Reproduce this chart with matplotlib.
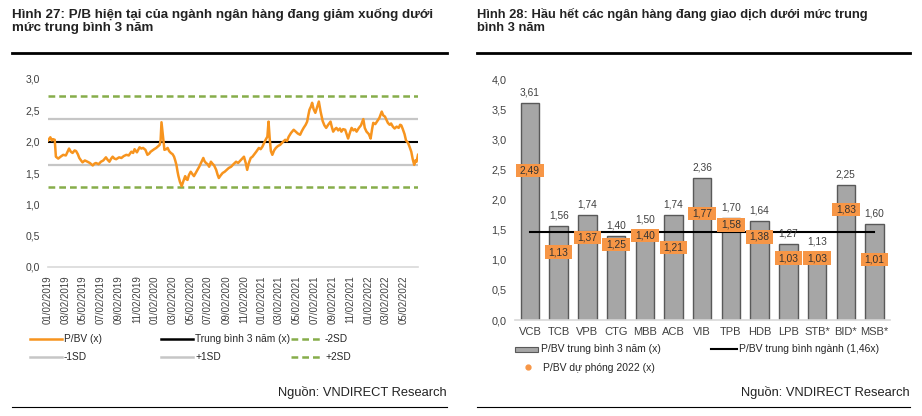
import matplotlib
matplotlib.use("Agg")
import matplotlib.pyplot as plt
from matplotlib.lines import Line2D
from matplotlib.patches import Rectangle
import pandas as pd

plt.rcParams['font.family'] = ['Liberation Sans', 'DejaVu Sans']

# ---- Hình 27: P/B ngành ngân hàng ----
pb_dates = [
    "2019-01-02", "2019-01-07", "2019-01-10", "2019-01-15", "2019-01-19", "2019-01-25", "2019-01-29",
    "2019-02-06", "2019-02-14", "2019-02-23", "2019-03-04", "2019-03-10", "2019-03-15", "2019-03-21",
    "2019-03-27", "2019-04-03", "2019-04-08", "2019-04-14", "2019-04-19", "2019-04-25", "2019-04-30",
    "2019-05-08", "2019-05-17", "2019-05-25", "2019-06-04", "2019-06-10", "2019-06-15", "2019-06-24",
    "2019-07-02", "2019-07-10", "2019-07-19", "2019-07-25", "2019-07-31", "2019-08-06", "2019-08-11",
    "2019-08-17", "2019-08-23", "2019-09-02", "2019-09-10", "2019-09-18", "2019-09-27", "2019-10-05",
    "2019-10-14", "2019-10-20", "2019-10-25", "2019-11-02", "2019-11-11", "2019-11-17", "2019-11-23",
    "2019-12-01", "2019-12-08", "2019-12-14", "2019-12-19", "2019-12-25", "2019-12-31", "2020-01-07",
    "2020-01-12", "2020-01-19", "2020-01-22", "2020-01-25", "2020-01-28", "2020-01-31", "2020-02-04",
    "2020-02-10", "2020-02-15", "2020-02-20", "2020-02-26", "2020-03-03", "2020-03-08", "2020-03-12",
    "2020-03-16", "2020-03-20", "2020-03-23", "2020-03-28", "2020-04-03", "2020-04-08", "2020-04-15",
    "2020-04-19", "2020-04-23", "2020-04-28", "2020-05-04", "2020-05-10", "2020-05-15", "2020-05-21",
    "2020-05-27", "2020-06-02", "2020-06-08", "2020-06-12", "2020-06-16", "2020-06-20", "2020-06-25",
    "2020-07-01", "2020-07-06", "2020-07-12", "2020-07-17", "2020-07-23", "2020-07-30", "2020-08-04",
    "2020-08-08", "2020-08-14", "2020-08-21", "2020-08-28", "2020-09-04", "2020-09-11", "2020-09-19",
    "2020-09-27", "2020-10-06", "2020-10-13", "2020-10-21", "2020-10-27", "2020-11-02", "2020-11-08",
    "2020-11-13", "2020-11-18", "2020-11-25", "2020-12-01", "2020-12-06", "2020-12-14", "2020-12-23",
    "2020-12-29", "2021-01-04", "2021-01-10", "2021-01-15", "2021-01-21", "2021-01-25", "2021-01-29",
    "2021-02-02", "2021-02-07", "2021-02-13", "2021-02-19", "2021-02-26", "2021-03-06", "2021-03-14",
    "2021-03-23", "2021-03-29", "2021-04-04", "2021-04-12", "2021-04-21", "2021-04-28", "2021-05-05",
    "2021-05-13", "2021-05-19", "2021-05-25", "2021-06-01", "2021-06-06", "2021-06-10", "2021-06-14",
    "2021-06-19", "2021-06-23", "2021-06-28", "2021-07-04", "2021-07-10", "2021-07-16", "2021-07-22",
    "2021-07-29", "2021-08-04", "2021-08-10", "2021-08-17", "2021-08-25", "2021-08-29", "2021-09-03",
    "2021-09-09", "2021-09-14", "2021-09-20", "2021-09-26", "2021-10-01", "2021-10-07", "2021-10-14",
    "2021-10-19", "2021-10-24", "2021-10-30", "2021-11-05", "2021-11-11", "2021-11-17", "2021-11-22",
    "2021-11-30", "2021-12-07", "2021-12-15", "2021-12-20", "2021-12-26", "2022-01-03", "2022-01-09",
    "2022-01-14", "2022-01-18", "2022-01-25", "2022-02-01", "2022-02-08", "2022-02-13", "2022-02-16",
    "2022-02-21", "2022-02-27", "2022-03-04", "2022-03-09", "2022-03-15", "2022-03-20", "2022-03-26",
    "2022-04-01", "2022-04-08", "2022-04-15", "2022-04-20", "2022-04-24", "2022-04-29", "2022-05-05",
    "2022-05-10", "2022-05-17", "2022-05-22", "2022-05-28", "2022-06-02", "2022-06-07", "2022-06-11",
    "2022-06-15", "2022-06-20",
]
pb_values = [
    2.02, 2.05, 2.07, 2.02, 2.04, 2.03, 1.76,
    1.73, 1.76, 1.79, 1.78, 1.84, 1.89, 1.84,
    1.82, 1.86, 1.85, 1.80, 1.74, 1.70, 1.67,
    1.70, 1.68, 1.66, 1.62, 1.65, 1.66, 1.64,
    1.68, 1.70, 1.75, 1.71, 1.68, 1.73, 1.76,
    1.73, 1.72, 1.75, 1.74, 1.77, 1.79, 1.78,
    1.84, 1.82, 1.88, 1.83, 1.91, 1.89, 1.90,
    1.87, 1.79, 1.81, 1.84, 1.86, 1.88, 1.90,
    1.92, 1.95, 2.02, 2.31, 2.18, 2.05, 1.87,
    1.88, 1.90, 1.85, 1.82, 1.80, 1.76, 1.70,
    1.63, 1.52, 1.45, 1.36, 1.29, 1.36, 1.45,
    1.40, 1.39, 1.47, 1.52, 1.48, 1.45, 1.50,
    1.55, 1.60, 1.66, 1.70, 1.74, 1.69, 1.66,
    1.64, 1.60, 1.68, 1.65, 1.62, 1.55, 1.47,
    1.42, 1.46, 1.50, 1.52, 1.55, 1.58, 1.60,
    1.64, 1.68, 1.66, 1.70, 1.73, 1.76, 1.66,
    1.55, 1.65, 1.74, 1.76, 1.79, 1.84, 1.90,
    1.88, 1.92, 1.98, 2.03, 2.08, 2.32, 2.05,
    1.85, 1.79, 1.86, 1.90, 1.93, 1.95, 1.99,
    2.03, 2.01, 2.08, 2.14, 2.19, 2.16, 2.13,
    2.11, 2.17, 2.22, 2.27, 2.32, 2.42, 2.51,
    2.56, 2.62, 2.52, 2.46, 2.55, 2.64, 2.48,
    2.33, 2.26, 2.22, 2.27, 2.32, 2.24, 2.16,
    2.20, 2.22, 2.18, 2.21, 2.16, 2.20, 2.19,
    2.12, 2.05, 2.14, 2.22, 2.18, 2.20, 2.16,
    2.22, 2.26, 2.36, 2.22, 2.16, 2.12, 2.05,
    2.20, 2.30, 2.28, 2.33, 2.38, 2.44, 2.48,
    2.42, 2.40, 2.35, 2.30, 2.27, 2.29, 2.24,
    2.21, 2.24, 2.22, 2.27, 2.26, 2.20, 2.12,
    2.02, 1.98, 1.92, 1.84, 1.72, 1.63, 1.70,
    1.68, 1.79,
]
pb_mean = 2.00
pb_sd = 0.365

# ---- Hình 28: P/BV từng ngân hàng ----
banks = ["VCB", "TCB", "VPB", "CTG", "MBB", "ACB", "VIB", "TPB", "HDB", "LPB", "STB*", "BID*", "MSB*"]
pb_avg3y = [3.61, 1.56, 1.74, 1.40, 1.50, 1.74, 2.36, 1.70, 1.64, 1.27, 1.13, 2.25, 1.60]
pb_2022f = [2.49, 1.13, 1.37, 1.25, 1.40, 1.21, 1.77, 1.58, 1.38, 1.03, 1.03, 1.83, 1.01]
sector_avg = 1.46

W, H = 922, 416
ORANGE = "#f7941e"
BOX = "#f79646"
GREEN = "#86ad4a"
GREY = "#c6c6c6"
TXT = "#404040"


def fx(px):
    return px / W


def fy(py):
    return 1 - py / H


def vn(v, nd=1):
    return f"{v:.{nd}f}".replace(".", ",")


fig = plt.figure(figsize=(W / 100, H / 100), dpi=100)
fig.patch.set_facecolor("white")

# titles & rules
fig.text(fx(12), fy(31), "Hình 27: P/B hiện tại của ngành ngân hàng đang giảm xuống dưới\nmức trung bình 3 năm",
         fontsize=9.6, fontweight="bold", color="#222222", va="baseline", linespacing=1.12)
fig.text(fx(477), fy(31), "Hình 28: Hầu hết các ngân hàng đang giao dịch dưới mức trung\nbình 3 năm",
         fontsize=9.3, fontweight="bold", color="#222222", va="baseline", linespacing=1.15)
for x0, x1 in [(12, 447), (477, 910)]:
    fig.add_artist(Line2D([fx(x0), fx(x1)], [fy(53), fy(53)], color="black", lw=2.0))
    fig.add_artist(Line2D([fx(x0), fx(x1)], [fy(407), fy(407)], color="black", lw=0.8))
fig.text(fx(447), fy(396), "Nguồn: VNDIRECT Research", fontsize=9.3, color="#222222", ha="right", va="baseline")
fig.text(fx(910), fy(396), "Nguồn: VNDIRECT Research", fontsize=9.3, color="#222222", ha="right", va="baseline")

# ---- left chart ----
ax1 = fig.add_axes([fx(48), fy(267), fx(418) - fx(48), fy(79) - fy(267)])
dates = pd.to_datetime(pb_dates)
ax1.axhline(pb_mean + 2 * pb_sd, color=GREEN, lw=1.8, ls=(0, (2.7, 1.6)))
ax1.axhline(pb_mean - 2 * pb_sd, color=GREEN, lw=1.8, ls=(0, (2.7, 1.6)))
ax1.axhline(pb_mean + pb_sd, color=GREY, lw=1.6)
ax1.axhline(pb_mean - pb_sd, color=GREY, lw=1.6)
ax1.axhline(pb_mean, color="black", lw=1.5)
ax1.plot(dates, pb_values, color=ORANGE, lw=1.8, solid_joinstyle="round")
ax1.set_xlim(dates[0], dates[-1])
ax1.set_ylim(0, 3.0)
ax1.set_yticks([0, 0.5, 1.0, 1.5, 2.0, 2.5, 3.0])
ax1.set_yticklabels([vn(v) for v in [0, 0.5, 1.0, 1.5, 2.0, 2.5, 3.0]])
ticks = pd.date_range("2019-01-01", "2022-05-01", freq="2MS") + pd.Timedelta(days=1)
ax1.set_xticks(ticks)
ax1.set_xticklabels([t.strftime("%m/%d/%Y") for t in ticks], rotation=90)
ax1.tick_params(axis="both", length=0, labelcolor=TXT)
ax1.tick_params(axis="y", labelsize=7.5, pad=6)
ax1.tick_params(axis="x", labelsize=7, pad=6)
for s in ["top", "right", "left"]:
    ax1.spines[s].set_visible(False)
ax1.spines["bottom"].set_color("#d9d9d9")
ax1.spines["bottom"].set_linewidth(1.2)

# left legend (drawn by hand to match column positions)
leg1 = [
    (30, 339, "P/BV (x)", dict(color=ORANGE, lw=1.8)),
    (161, 339, "Trung bình 3 năm (x)", dict(color="black", lw=1.8)),
    (291, 339, "-2SD", dict(color=GREEN, lw=1.8, ls=(0, (2.7, 1.6)))),
    (30, 357, "-1SD", dict(color=GREY, lw=1.8)),
    (161, 357, "+1SD", dict(color=GREY, lw=1.8)),
    (291, 357, "+2SD", dict(color=GREEN, lw=1.8, ls=(0, (2.7, 1.6)))),
]
for x, y, lab, st in leg1:
    fig.add_artist(Line2D([fx(x), fx(x + 32)], [fy(y), fy(y)], **st))
    fig.text(fx(x + 34), fy(y), lab, fontsize=7.3, color="#262626", va="center")

# ---- right chart ----
ax2 = fig.add_axes([fx(515), fy(320), fx(890) - fx(515), fy(79.3) - fy(320)])
xs = list(range(len(banks)))
ax2.bar(xs, pb_avg3y, width=0.64, color="#a6a6a6", edgecolor="#595959", linewidth=1.0, zorder=2)
ax2.plot([xs[0], xs[-1]], [sector_avg, sector_avg], color="black", lw=1.5, zorder=3)
for x, v in zip(xs, pb_avg3y):
    ax2.annotate(vn(v, 2), (x, v), xytext=(0, 4), textcoords="offset points",
                 ha="center", va="bottom", fontsize=7.3, color=TXT)
for x, v in zip(xs, pb_2022f):
    ax2.add_patch(Rectangle((x - 0.48, v - 0.11), 0.96, 0.22, facecolor=BOX, edgecolor="none", zorder=4))
    ax2.text(x, v, vn(v, 2), ha="center", va="center", fontsize=7.4, color="#333333", zorder=5)
ax2.set_xlim(-0.52, len(banks) - 1 + 0.54)
ax2.set_ylim(0, 4.0)
yt = [0, 0.5, 1.0, 1.5, 2.0, 2.5, 3.0, 3.5, 4.0]
ax2.set_yticks(yt)
ax2.set_yticklabels([vn(v) for v in yt])
ax2.set_xticks(xs)
ax2.set_xticklabels(banks)
ax2.tick_params(axis="both", length=0, labelcolor=TXT)
ax2.tick_params(axis="y", labelsize=7.8, pad=6)
ax2.tick_params(axis="x", labelsize=8, pad=5)
for s in ["top", "right", "left"]:
    ax2.spines[s].set_visible(False)
ax2.spines["bottom"].set_color("#d9d9d9")
ax2.spines["bottom"].set_linewidth(1.2)

# right legend
fig.add_artist(Rectangle((fx(515), fy(351.5)), fx(538) - fx(515), fy(346.5) - fy(351.5),
                         facecolor="#a6a6a6", edgecolor="#595959", lw=0.8))
fig.text(fx(541), fy(349), "P/BV trung bình 3 năm (x)", fontsize=7.5, color="#262626", va="center")
fig.add_artist(Line2D([fx(711), fx(737)], [fy(349), fy(349)], color="black", lw=1.5))
fig.text(fx(739), fy(349), "P/BV trung bình ngành (1,46x)", fontsize=7.5, color="#262626", va="center")
fig.add_artist(Line2D([fx(528)], [fy(367)], marker="o", markersize=3.5, color=BOX, lw=0))
fig.text(fx(543), fy(368), "P/BV dự phóng 2022 (x)", fontsize=7.5, color="#262626", va="center")

fig.savefig("out.png", dpi=100, facecolor="white")
